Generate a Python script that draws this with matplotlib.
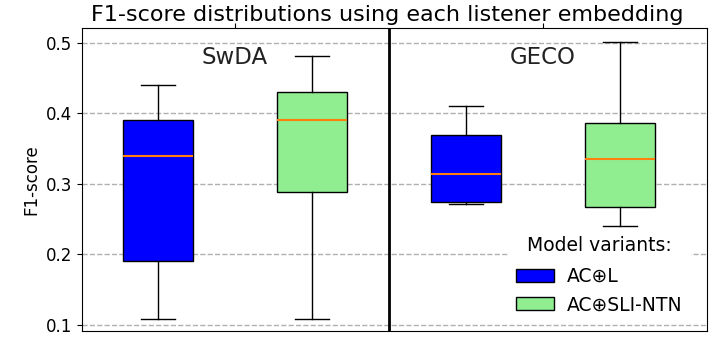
import matplotlib
matplotlib.use("Agg")
import matplotlib.pyplot as plt
from matplotlib.patches import Patch

datasets = ["SwDA", "GECO"]
variants = ["AC\u2295L", "AC\u2295SLI-NTN"]
colors = ["#0000ff", "#90ee90"]

# stats per (dataset, variant): whislo, q1, med, q3, whishi
swda_acl = [0.109, 0.191, 0.339, 0.391, 0.440]
swda_sli = [0.109, 0.288, 0.391, 0.430, 0.481]
geco_acl = [0.271, 0.274, 0.314, 0.370, 0.410]
geco_sli = [0.240, 0.267, 0.336, 0.386, 0.501]
yticks = [0.1, 0.2, 0.3, 0.4, 0.5]

all_stats = [swda_acl, swda_sli, geco_acl, geco_sli]
positions = [1, 2, 3, 4]
box_colors = [colors[0], colors[1], colors[0], colors[1]]

fig = plt.figure(figsize=(7.18, 3.44), dpi=100)
ax = fig.add_axes([82/718, 1-331/344, (707-82)/718, (331-28)/344])

stats = []
for s in all_stats:
    stats.append(dict(whislo=s[0], q1=s[1], med=s[2], q3=s[3], whishi=s[4], fliers=[]))

bp = ax.bxp(stats, positions=positions, widths=0.45, patch_artist=True,
            showfliers=False,
            medianprops=dict(color="#ff7f0e", linewidth=1.5),
            boxprops=dict(edgecolor="black", linewidth=1),
            whiskerprops=dict(color="black", linewidth=1),
            capprops=dict(color="black", linewidth=1))
for patch, c in zip(bp["boxes"], box_colors):
    patch.set_facecolor(c)

ax.axvline(2.5, color="black", linewidth=2)
ax.set_xlim(0.506, 4.565)
ax.set_ylim(0.0915, 0.521)
ax.set_yticks(yticks)
ax.set_yticklabels([f"{t:.1f}" for t in yticks], fontsize=12)
ax.yaxis.grid(True, linestyle="--", color="#b0b0b0", linewidth=1)
ax.set_axisbelow(True)

ax.xaxis.tick_top()
ax.set_xticks([1.5, 3.5])
ax.set_xticklabels(["", ""])

for xc, name in zip([1.5, 3.5], datasets):
    ax.text(xc, 0.479, name, ha="center", va="center", fontsize=16.5, color="#222222")

ax.set_ylabel("F1-score", fontsize=12)
ax.set_title("F1-score distributions using each listener embedding", fontsize=16, pad=5, x=0.489)

handles = [Patch(facecolor=colors[0], edgecolor="black", label=variants[0]),
           Patch(facecolor=colors[1], edgecolor="black", label=variants[1])]
leg = ax.legend(handles=handles, title="Model variants:", loc="lower right",
                bbox_to_anchor=(0.973, 0.03), borderaxespad=0,
                fontsize=13.5, title_fontsize=13.5, frameon=True, framealpha=1,
                edgecolor="white", fancybox=False,
                labelspacing=0.5, handletextpad=0.7)
leg._legend_box.sep = 8.5

fig.savefig("out.png", dpi=100)
